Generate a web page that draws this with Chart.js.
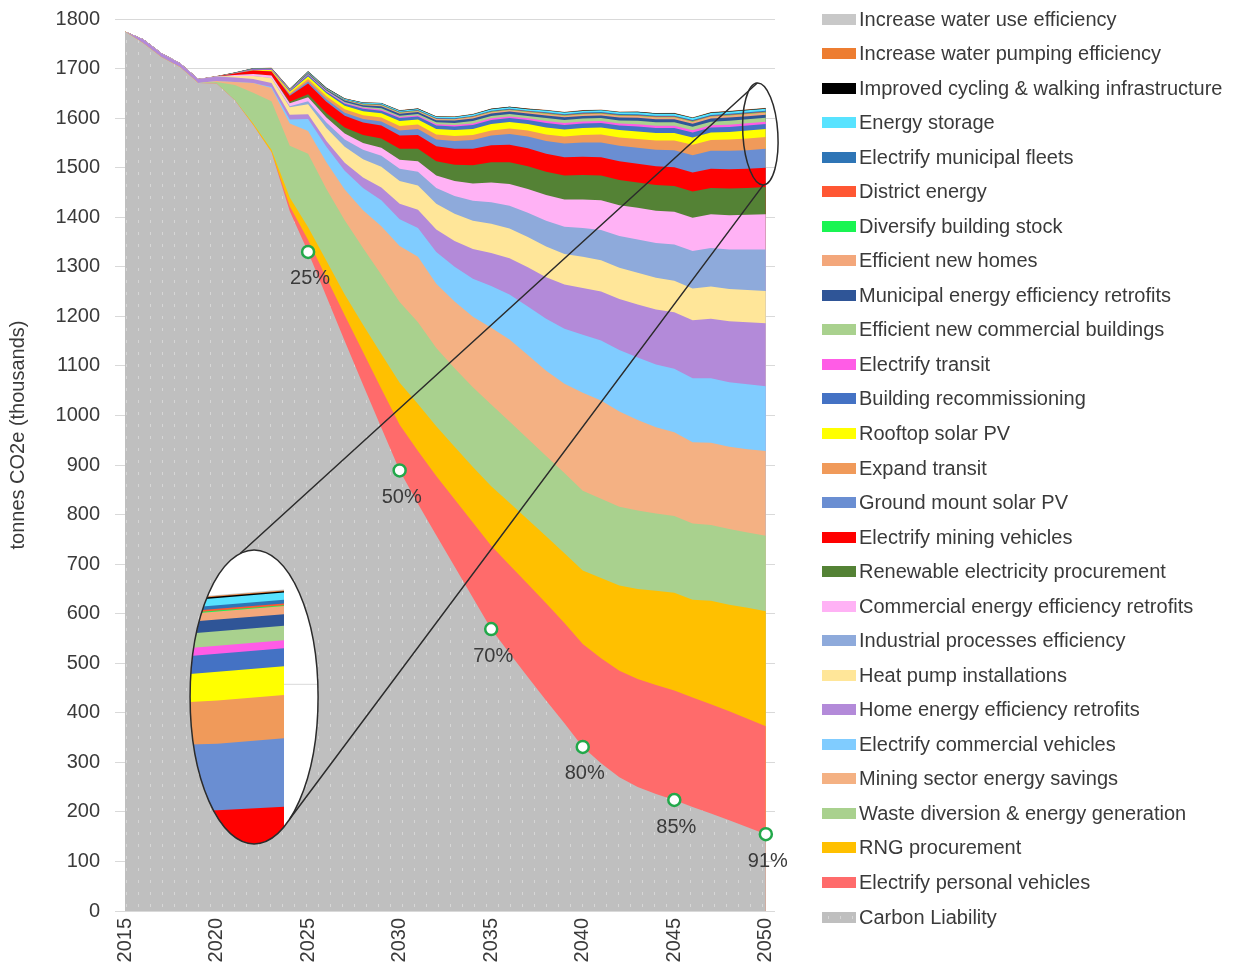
<!DOCTYPE html>
<html>
<head>
<meta charset="utf-8">
<script src="https://cdn.jsdelivr.net/npm/chart.js@4.4.1/dist/chart.umd.min.js"></script>
<style>
  html, body { margin: 0; padding: 0; background: #fff; }
  #wrap { position: relative; width: 1234px; height: 967px; }
  #legend { position: absolute; left: 822px; top: 0; font: 20px "Liberation Sans", Arial, sans-serif; color: #3a3a3a; }
  .item { position: absolute; left: 0; height: 24px; display: flex; align-items: center; white-space: nowrap; }
  .swatch { width: 34px; height: 11px; margin-right: 3px; flex: none; }
</style>
</head>
<body>
<div id="wrap">
  <canvas id="chart" width="1234" height="967"></canvas>
  <div id="legend"></div>
</div>
<script>
// years on the x axis
var years = [2015, 2016, 2017, 2018, 2019, 2020, 2021, 2022, 2023, 2024, 2025, 2026,
             2027, 2028, 2029, 2030, 2031, 2032, 2033, 2034, 2035, 2036, 2037, 2038,
             2039, 2040, 2041, 2042, 2043, 2044, 2045, 2046, 2047, 2048, 2049, 2050];
var yearTicks = [2015, 2020, 2025, 2030, 2035, 2040, 2045, 2050];

// stacked series, bottom of the stack first (tonnes CO2e, thousands)
var carbonLiability = [1775, 1751, 1723, 1703, 1671, 1670, 1636, 1586, 1531, 1412, 1330, 1240, 1150, 1062, 975, 889, 822, 758, 695, 632, 569, 520, 472, 425, 379, 331, 298, 270, 250, 236, 224, 210, 197, 183, 169, 155];
var personalVehicles = [0, 0, 0, 0, 0, 0, 0, 0, 0, 10, 24, 38, 52, 66, 79, 92, 106, 120, 136, 152, 168, 178, 188, 196, 202, 208, 212, 215, 218, 220, 221, 221, 220, 220, 219, 218];
var rngProcurement = [0, 0, 0, 0, 0, 0, 0, 3, 5, 18, 26, 34, 42, 55, 70, 85, 95, 100, 106, 112, 120, 126, 130, 135, 141, 148, 162, 172, 182, 190, 197, 197, 209, 215, 224, 232];
var wasteDiversion = [0, 0, 0, 0, 0, 3, 31, 62, 98, 104, 148, 145, 150, 155, 160, 163, 165, 158, 158, 161, 165, 164, 163, 162, 162, 161, 160, 159, 158, 156, 155, 154, 153, 153, 152, 152];
var miningSavings = [0, 0, 0, 0, 0, 2, 6, 20, 27, 45, 46, 54, 62, 76, 98, 113, 132, 130, 135, 142, 155, 165, 169, 172, 180, 198, 198, 192, 183, 174, 169, 164, 166, 166, 168, 171];
var commercialVehicles = [0, 0, 0, 0, 0, 0, 0, 0, 2, 8, 24, 31, 38, 45, 52, 54, 58, 64, 70, 77, 84, 91, 98, 105, 111, 117, 121, 124, 126, 127, 128, 129, 130, 130, 131, 131];
var homeRetrofits = [0, 8, 8, 8, 8, 9, 9, 8, 8, 10, 10, 12, 16, 21, 26, 31, 37, 45, 52, 60, 67, 73, 79, 84, 89, 94, 99, 103, 107, 111, 114, 117, 120, 123, 125, 127];
var heatPumps = [0, 0, 0, 0, 0, 0, 3, 6, 10, 15, 20, 26, 32, 37, 42, 46, 49, 52, 55, 57, 59, 60, 61, 62, 62, 63, 63, 63, 64, 64, 64, 64, 65, 65, 65, 65];
var industrialProcesses = [0, 0, 0, 0, 0, 0, 0, 0, 0, 2, 6, 11, 15, 19, 22, 25, 28, 32, 36, 40, 43, 46, 49, 52, 55, 58, 61, 64, 67, 70, 73, 76, 78, 80, 82, 84];
var commercialRetrofits = [0, 0, 0, 0, 0, 0, 2, 4, 5, 6, 8, 10, 12, 14, 16, 18, 21, 25, 30, 35, 40, 44, 48, 52, 55, 58, 60, 62, 64, 65, 66, 67, 68, 69, 70, 71];
var renewableElectricity = [0, 0, 0, 0, 0, 0, 0, 0, 0, 3, 6, 9, 12, 16, 19, 22, 25, 29, 33, 37, 41, 44, 46, 47, 48, 49, 50, 51, 51, 52, 52, 53, 53, 54, 54, 55];
var miningVehicles = [0, 0, 0, 0, 0, 0, 3, 7, 8, 12, 22, 23, 24, 25, 26, 27, 28, 30, 32, 33, 34, 35, 36, 36, 37, 37, 37, 38, 38, 38, 38, 38, 39, 39, 39, 39];
var groundSolar = [0, 0, 0, 0, 0, 0, 0, 0, 0, 2, 4, 5, 6, 7, 8, 10, 12, 14, 16, 18, 20, 22, 24, 26, 28, 29, 30, 31, 32, 33, 34, 35, 36, 37, 37, 38];
var expandTransit = [0, 0, 0, 0, 0, 0, 0, 0, 1, 3, 5, 6, 7, 8, 8, 9, 9, 10, 10, 10, 10, 11, 12, 13, 14, 15, 16, 17, 18, 19, 20, 21, 22, 23, 24, 24];
var rooftopSolar = [0, 0, 0, 0, 0, 0, 0, 1, 2, 3, 5, 6, 7, 8, 9, 10, 10, 11, 12, 12, 13, 13, 13, 14, 14, 14, 14, 15, 15, 15, 15, 15, 15, 15, 16, 16];
var recommissioning = [0, 0, 0, 0, 0, 0, 0, 1, 1, 2, 3, 3, 4, 5, 5, 6, 6, 7, 7, 8, 8, 8, 8, 9, 9, 9, 9, 9, 10, 10, 10, 10, 10, 10, 10, 10];
var electrifyTransit = [0, 0, 0, 0, 0, 0, 0.5, 0.5, 1, 1, 1, 1.5, 1.5, 2, 2, 2, 2.5, 2.5, 3, 3, 3.5, 3.5, 3.5, 4, 4, 4, 4, 4, 4.5, 4.5, 4.5, 4.5, 4.5, 4.5, 4.5, 4.5];
var newCommercial = [0, 0, 0, 0, 0, 0, 0, 0, 0, 0.5, 1, 1, 2, 2, 3, 3, 3, 4, 4, 5, 5, 5, 5, 6, 6, 6, 6, 6, 7, 7, 7, 7, 7, 8, 8, 8];
var municipalRetrofits = [0, 0, 0, 0, 0, 0, 0.5, 1, 1, 1, 2, 2, 3, 3, 4, 4, 4, 4, 5, 5, 5, 5, 5, 5.5, 5.5, 5.5, 5.5, 6, 6, 6, 6, 6, 6.5, 6.5, 6.5, 6.5];
var newHomes = [0, 0, 0, 0, 0, 0, 0, 0, 0, 0.5, 1, 1, 1, 1.5, 2, 2, 2, 2.5, 2.5, 3, 3, 3, 3, 3.5, 3.5, 3.5, 3.5, 4, 4, 4, 4, 4, 4, 4.5, 4.5, 4.5];
var diversifyStock = [0, 0, 0, 0, 0, 0, 0, 0, 0, 0, 0, 0, 0, 0.3, 0.3, 0.3, 0.3, 0.3, 0.3, 0.3, 0.3, 0.3, 0.3, 0.3, 0.3, 0.5, 0.5, 0.5, 0.5, 0.5, 0.5, 0.5, 0.5, 0.5, 0.5, 0.5];
var districtEnergy = [0, 0, 0, 0, 0, 0, 0, 0, 0, 0, 0, 0, 0, 0.5, 0.5, 0.5, 0.6, 0.6, 0.6, 0.7, 0.7, 0.7, 0.8, 0.8, 0.9, 1, 1, 1, 1, 1, 1, 1, 1, 1, 1, 1];
var municipalFleets = [0, 0, 0, 0, 0, 0, 0.3, 0.5, 0.7, 0.8, 1, 1, 1, 1, 1, 1.1, 1.1, 1.2, 1.2, 1.2, 1.5, 1.5, 1.5, 1.6, 1.6, 1.6, 1.7, 1.7, 1.8, 1.8, 2, 2, 2, 2, 2, 2];
var energyStorage = [0, 0, 0, 0, 0, 0, 0, 0, 0, 0, 1, 1, 1.5, 1.5, 2, 2, 2, 2.5, 2.5, 3, 3, 3, 3, 3.5, 3.5, 3.5, 3.5, 3.5, 4, 4, 4, 4, 4, 4, 4, 4];
var cyclingWalking = [0, 0, 0, 0, 0, 0.5, 0.5, 0.5, 0.5, 0.5, 0.5, 0.6, 0.6, 0.6, 0.6, 0.6, 0.7, 0.7, 0.7, 0.7, 0.7, 0.7, 0.7, 0.7, 0.7, 0.7, 0.8, 0.8, 0.8, 0.8, 0.8, 0.8, 0.8, 0.8, 0.8, 0.8];
var waterPumping = [0, 0, 0, 0, 0, 0.3, 0.3, 0.3, 0.3, 0.3, 0.3, 0.3, 0.3, 0.3, 0.3, 0.3, 0.3, 0.3, 0.3, 0.3, 0.4, 0.4, 0.4, 0.4, 0.4, 0.4, 0.4, 0.4, 0.4, 0.4, 0.4, 0.4, 0.4, 0.4, 0.4, 0.4];
var waterUse = [0, 0, 0, 0, 0, 0.3, 0.3, 0.3, 0.3, 0.3, 0.3, 0.3, 0.3, 0.3, 0.3, 0.4, 0.4, 0.4, 0.4, 0.4, 0.4, 0.4, 0.4, 0.4, 0.4, 0.5, 0.5, 0.5, 0.5, 0.5, 0.5, 0.5, 0.5, 0.5, 0.5, 0.5];

// reduction milestones on the carbon liability line
var milestoneYears = [2025, 2030, 2035, 2040, 2045, 2050];
var milestoneValues = [1330, 889, 569, 331, 224, 155];
var milestoneLabels = ['25%', '50%', '70%', '80%', '85%', '91%'];

var yTitle = 'tonnes CO2e (thousands)';
var FONT = '"Liberation Sans", Arial, sans-serif';
var TEXT = '#3a3a3a';

// dotted grey fill for the carbon liability area
var tile = document.createElement('canvas');
tile.width = 12; tile.height = 12;
var tctx = tile.getContext('2d');
tctx.fillStyle = '#bfbfbf';
tctx.fillRect(0, 0, 12, 12);
tctx.fillStyle = '#d6d6d6';
tctx.fillRect(6, 4, 1, 3);
var ctx = document.getElementById('chart').getContext('2d');
var dots = ctx.createPattern(tile, 'repeat');

var series = [
  { label: 'Carbon Liability', data: carbonLiability, color: dots, swatch: '#bfbfbf' },
  { label: 'Electrify personal vehicles', data: personalVehicles, color: '#ff6b6b' },
  { label: 'RNG procurement', data: rngProcurement, color: '#ffc000' },
  { label: 'Waste diversion & energy generation', data: wasteDiversion, color: '#a9d18e' },
  { label: 'Mining sector energy savings', data: miningSavings, color: '#f4b183' },
  { label: 'Electrify commercial vehicles', data: commercialVehicles, color: '#80ccff' },
  { label: 'Home energy efficiency retrofits', data: homeRetrofits, color: '#b38ad9' },
  { label: 'Heat pump installations', data: heatPumps, color: '#ffe699' },
  { label: 'Industrial processes efficiency', data: industrialProcesses, color: '#8eaadb' },
  { label: 'Commercial energy efficiency retrofits', data: commercialRetrofits, color: '#ffb2f5' },
  { label: 'Renewable electricity procurement', data: renewableElectricity, color: '#548235' },
  { label: 'Electrify mining vehicles', data: miningVehicles, color: '#ff0000' },
  { label: 'Ground mount solar PV', data: groundSolar, color: '#6a8ed2' },
  { label: 'Expand transit', data: expandTransit, color: '#f09a5a' },
  { label: 'Rooftop solar PV', data: rooftopSolar, color: '#ffff00' },
  { label: 'Building recommissioning', data: recommissioning, color: '#4472c4' },
  { label: 'Electrify transit', data: electrifyTransit, color: '#ff5ce6' },
  { label: 'Efficient new commercial buildings', data: newCommercial, color: '#a9d18e' },
  { label: 'Municipal energy efficiency retrofits', data: municipalRetrofits, color: '#2f5597' },
  { label: 'Efficient new homes', data: newHomes, color: '#f3a77b' },
  { label: 'Diversify building stock', data: diversifyStock, color: '#19f552' },
  { label: 'District energy', data: districtEnergy, color: '#ff5733' },
  { label: 'Electrify municipal fleets', data: municipalFleets, color: '#2e75b6' },
  { label: 'Energy storage', data: energyStorage, color: '#58e3ff' },
  { label: 'Improved cycling & walking infrastructure', data: cyclingWalking, color: '#000000' },
  { label: 'Increase water pumping efficiency', data: waterPumping, color: '#ed7d31' },
  { label: 'Increase water use efficiency', data: waterUse, color: '#c8c8c8' }
];

var datasets = series.map(function(s) {
  return {
    label: s.label,
    data: s.data,
    backgroundColor: s.color,
    borderWidth: 0,
    pointRadius: 0,
    fill: 'origin',
    tension: 0
  };
});
datasets.push({
  label: 'milestones',
  type: 'line',
  stack: 'milestones',
  data: milestoneYears.map(function(yr, i) { return { x: yr, y: milestoneValues[i] }; }),
  showLine: false,
  fill: false,
  pointRadius: 6,
  pointBorderWidth: 2.5,
  pointBorderColor: '#22a84a',
  pointBackgroundColor: '#ffffff',
  order: -1,
  clip: false
});

// percent labels under the milestone markers
var milestoneText = {
  id: 'milestoneText',
  afterDatasetsDraw: function(chart) {
    var c = chart.ctx;
    var pts = chart.getDatasetMeta(series.length).data;
    c.save();
    c.font = '20px ' + FONT;
    c.fillStyle = TEXT;
    c.textAlign = 'center';
    c.textBaseline = 'middle';
    pts.forEach(function(p, i) { c.fillText(milestoneLabels[i], p.x + 2, p.y + 27); });
    c.restore();
  }
};

// magnified view of the thin layers at 2050
var magnifier = {
  id: 'magnifier',
  afterDatasetsDraw: function(chart) {
    var c = chart.ctx, x = chart.scales.x, y = chart.scales.y;
    var zoom = 3.63;
    var bx = x.getPixelForValue(2022.05), by = y.getPixelForValue(432), brx = 64, bry = 147;
    var sx = x.getPixelForValue(2049.55), sy = y.getPixelForValue(1561);
    var ex = x.getPixelForValue(2049.7), ey = y.getPixelForValue(1568), erx = 17.5, ery = 51, tilt = -0.06;
    function map(px, py) { return [bx + (px - sx) * zoom, by + (py - sy) * zoom]; }

    c.save();
    c.beginPath();
    c.ellipse(bx, by, brx, bry, 0, 0, Math.PI * 2);
    c.fillStyle = '#ffffff';
    c.fill();
    c.clip();
    for (var d = series.length - 1; d >= 0; d--) {
      var pts = chart.getDatasetMeta(d).data;
      c.beginPath();
      pts.forEach(function(p, j) {
        var m = map(p.x, p.y);
        if (j === 0) c.moveTo(m[0], m[1]); else c.lineTo(m[0], m[1]);
      });
      var last = map(pts[pts.length - 1].x, 0)[0], first = map(pts[0].x, 0)[0];
      c.lineTo(last, by + bry + 20);
      c.lineTo(first, by + bry + 20);
      c.closePath();
      c.fillStyle = series[d].swatch || series[d].color;
      c.fill();
    }
    var right = map(chart.getDatasetMeta(0).data[years.length - 1].x, 0)[0];
    var gy = map(0, ey)[1];
    c.strokeStyle = '#d9d9d9';
    c.lineWidth = 1;
    c.beginPath();
    c.moveTo(right, gy);
    c.lineTo(bx + brx, gy);
    c.stroke();
    c.restore();

    c.save();
    c.strokeStyle = '#2b2b2b';
    c.lineWidth = 1.5;
    c.beginPath();
    c.ellipse(bx, by, brx, bry, 0, 0, Math.PI * 2);
    c.stroke();
    c.beginPath();
    c.ellipse(ex, ey, erx, ery, tilt, 0, Math.PI * 2);
    c.stroke();
    var topS = [ex + ery * Math.sin(tilt), ey - ery * Math.cos(tilt)];
    var botS = [ex - ery * Math.sin(tilt), ey + ery * Math.cos(tilt)];
    var a1 = -1.79, a2 = 0.98;
    c.beginPath();
    c.moveTo(topS[0], topS[1]);
    c.lineTo(bx + brx * Math.cos(a1), by + bry * Math.sin(a1));
    c.moveTo(botS[0], botS[1]);
    c.lineTo(bx + brx * Math.cos(a2), by + bry * Math.sin(a2));
    c.stroke();
    c.restore();
  }
};

var axisTitle = {
  id: 'axisTitle',
  afterDraw: function(chart) {
    var c = chart.ctx, a = chart.chartArea;
    c.save();
    c.translate(18, (a.top + a.bottom) / 2 - 30);
    c.rotate(-Math.PI / 2);
    c.font = '20px ' + FONT;
    c.fillStyle = TEXT;
    c.textAlign = 'center';
    c.textBaseline = 'middle';
    c.fillText(yTitle, 0, 0);
    c.restore();
  }
};

Chart.defaults.font.family = FONT;

new Chart(ctx, {
  type: 'line',
  data: { labels: years, datasets: datasets },
  options: {
    responsive: false,
    animation: false,
    devicePixelRatio: 1,
    layout: { padding: { top: 19, right: 459, bottom: 0, left: 0 } },
    scales: {
      x: {
        type: 'linear',
        min: 2015,
        max: 2050.5,
        grid: { display: false, drawTicks: false },
        border: { display: false },
        ticks: {
          autoSkip: false,
          minRotation: 90,
          maxRotation: 90,
          padding: 7,
          color: TEXT,
          font: { size: 20 },
          callback: function(v) { return String(v); }
        },
        afterBuildTicks: function(axis) {
          axis.ticks = yearTicks.map(function(v) { return { value: v }; });
        },
        afterFit: function(scale) {
          scale.height = 56;
          scale.paddingLeft = 0;
          scale.paddingRight = 0;
        }
      },
      y: {
        stacked: true,
        min: 0,
        max: 1800,
        grid: { color: '#d9d9d9', tickLength: 10 },
        border: { display: false },
        ticks: {
          stepSize: 100,
          padding: 15,
          color: TEXT,
          font: { size: 20 },
          callback: function(v) { return String(v); }
        },
        afterFit: function(scale) {
          scale.width = 125;
          scale.paddingTop = 0;
          scale.paddingBottom = 0;
        }
      }
    },
    plugins: {
      legend: { display: false },
      tooltip: { enabled: false }
    }
  },
  plugins: [milestoneText, magnifier, axisTitle]
});

// legend, top of the stack first
var legend = document.getElementById('legend');
var tileUrl = tile.toDataURL();
series.slice().reverse().forEach(function(s, i) {
  var item = document.createElement('div');
  item.className = 'item';
  item.style.top = (19 + i * 34.54 - 12) + 'px';
  var sw = document.createElement('span');
  sw.className = 'swatch';
  if (s.swatch) { sw.style.backgroundImage = 'url(' + tileUrl + ')'; }
  else { sw.style.background = s.color; }
  item.appendChild(sw);
  item.appendChild(document.createTextNode(s.label));
  legend.appendChild(item);
});
</script>
</body>
</html>
